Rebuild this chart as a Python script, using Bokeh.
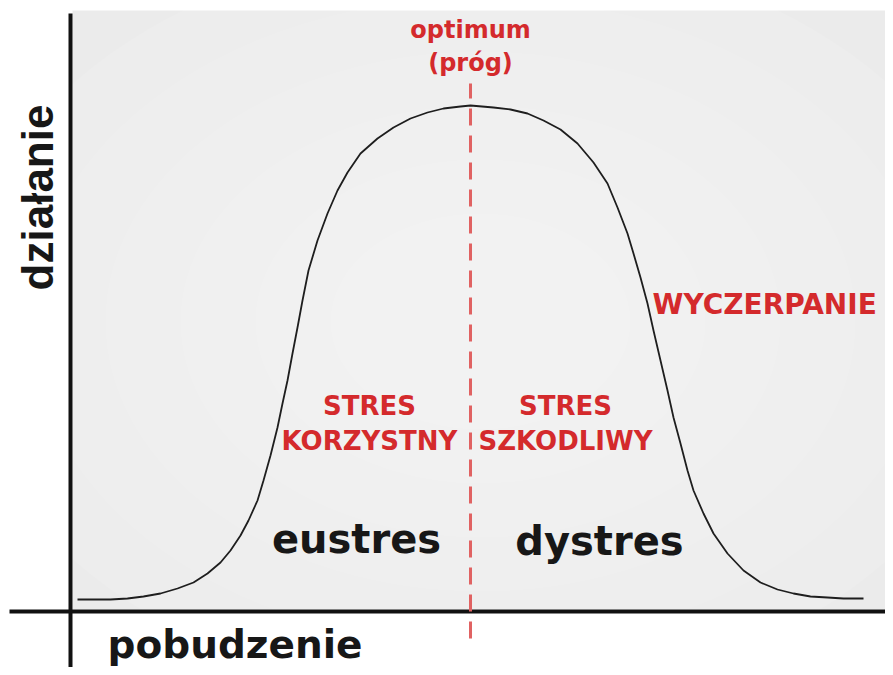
import numpy as np
from bokeh.plotting import figure
from bokeh.models import Range1d
from bokeh.core.properties import value
from bokeh.embed import file_html
from bokeh.resources import INLINE

# ---- data: performance ("działanie") as a function of arousal ("pobudzenie") ----
curve_x = [7, 23, 40, 57, 73, 90, 107, 123, 137, 150, 160, 170, 178, 187, 193, 200,
           207, 212, 217, 222, 227, 232, 238, 247, 257, 267, 277, 290, 307, 323, 340,
           357, 373, 390, 400,
           423, 440, 457, 473, 490, 507, 523, 537, 547, 557, 563, 570, 577, 583, 590,
           597, 603, 610, 617, 623, 633, 643, 657, 673, 690, 707, 723, 740, 757, 773, 793]
curve_y = [12, 12, 12, 13, 15, 18, 23, 29, 38, 49, 61, 76, 91, 111, 131, 156,
           184, 208, 231, 258, 284, 311, 341, 371, 398, 421, 439, 458, 473, 484, 493,
           499, 503, 505, 506,
           504, 502, 498, 491, 482, 468, 449, 428, 404, 378, 358, 334, 308, 281, 251,
           221, 194, 168, 141, 121, 98, 78, 58, 41, 29, 22, 18, 15, 14, 13, 13]
optimum_x = 400

# ---- labels ----
x_label = "pobudzenie"
y_label = "działanie"
optimum_labels = ["optimum", "(próg)"]
left_zone = ["STRES", "KORZYSTNY"]
right_zone = ["STRES", "SZKODLIWY"]
exhaustion_label = "WYCZERPANIE"
left_name = "eustres"
right_name = "dystres"

RED = "#d42a2c"
DASH = "#e06262"
INK = "#171717"
FONT = value("DejaVu Sans")

p = figure(width=885, height=667, x_range=Range1d(-70, 815), y_range=Range1d(-56, 611),
           output_backend="svg", toolbar_location=None, min_border=0,
           x_axis_location=None, y_axis_location=None)
p.grid.visible = False
p.outline_line_color = None
p.background_fill_color = "white"
p.border_fill_color = "white"

# light grey panel with soft radial highlight
p.quad(left=2, right=815, bottom=2, top=601, fill_color="#e5e5e5", line_color=None)
widths = np.linspace(1500, 300, 9)
p.ellipse(x=410, y=290, width=widths, height=widths * 0.72,
          fill_color="white", fill_alpha=0.1, line_color=None)

# axes
p.segment(x0=0, y0=-56, x1=0, y1=598, line_color="#111111", line_width=4)
p.segment(x0=-61, y0=0, x1=815, y1=0, line_color="#111111", line_width=4)

# optimum dashed line
p.line(x=[optimum_x, optimum_x], y=[-27, 528], line_color=DASH, line_width=3,
       line_dash="17 10")

# curve
p.line(x=curve_x, y=curve_y, line_color="#1e1e1e", line_width=1.8)

def txt(x, y, s, size, color, align="center", font=FONT, vertical=False):
    shift = 0.3 * size  # compensate for rendered baseline offset
    if vertical:
        x, y, angle = x - shift, y, np.pi / 2
    else:
        x, y, angle = x, y + shift, 0
    p.text(x=[x], y=[y], text=[s], text_font=font, text_font_style="bold",
           text_font_size=f"{size}px", text_color=color, text_align=align,
           text_baseline="alphabetic", angle=angle)

txt(optimum_x, 574, optimum_labels[0], 24, RED)
txt(optimum_x, 541, optimum_labels[1], 24, RED)

txt(299, 198, left_zone[0], 26, RED)
txt(299, 163, left_zone[1], 26, RED)
txt(495, 198, right_zone[0], 26, RED)
txt(495, 163, right_zone[1], 26, RED)
txt(582, 299, exhaustion_label, 28, RED, align="left")

txt(286, 61, left_name, 40, INK)
txt(529, 59, right_name, 40, INK)

txt(37, -45, x_label, 39, INK, align="left")
txt(-20, 414, y_label, 44, INK, font=value("Liberation Sans"), vertical=True)

open("out.html", "w").write(file_html(p, INLINE))
